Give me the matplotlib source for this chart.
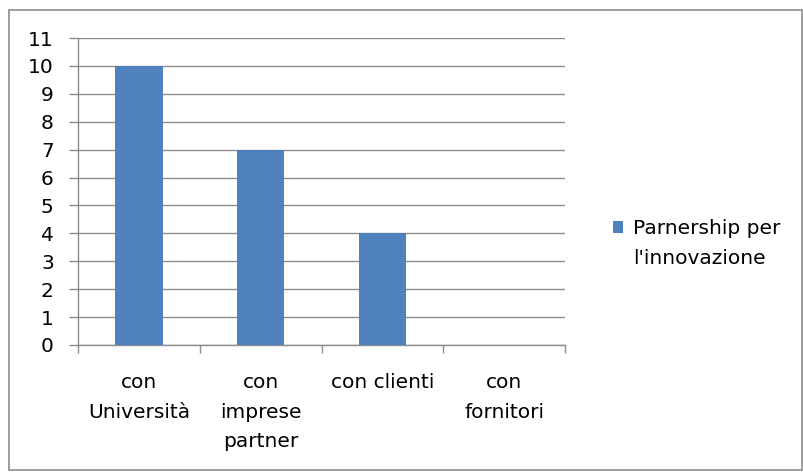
import matplotlib.pyplot as plt
from matplotlib.patches import Rectangle

# data
categories = ["con\nUniversità", "con\nimprese\npartner", "con clienti", "con\nfornitori"]
values = [10, 7, 4, 0]
series_name = "Parnership per\nl'innovazione"
bar_color = "#4F81BD"

plt.rcParams['font.family'] = ['DejaVu Sans']
fs = 14.5

fig = plt.figure(figsize=(8.04, 4.72), dpi=100)
ax = fig.add_axes([78 / 804, 1 - 345 / 472, (565 - 78) / 804, (345 - 38) / 472])

x = list(range(len(categories)))
ax.bar(x, values, width=0.39, color=bar_color, label=series_name, zorder=3)

ax.set_xlim(-0.5, len(categories) - 0.5)
ax.set_ylim(0, 11)
ax.set_yticks(range(0, 12))
ax.yaxis.grid(True, color="#8c8c8c", linewidth=1, zorder=0)

# category labels centred, ticks on category boundaries
ax.set_xticks([i - 0.5 for i in range(len(categories) + 1)])
ax.set_xticklabels([])
ax.set_xticks(x, minor=True)
ax.set_xticklabels(categories, minor=True, fontsize=fs, linespacing=1.72, va="top")
ax.tick_params(axis="x", which="minor", length=0, pad=20)
ax.tick_params(axis="x", which="major", length=6, color="#8c8c8c", width=1)
ax.tick_params(axis="y", length=6.5, color="#8c8c8c", width=1, labelsize=fs, pad=11)

for side in ["top", "right"]:
    ax.spines[side].set_visible(False)
for side in ["left", "bottom"]:
    ax.spines[side].set_color("#8c8c8c")
    ax.spines[side].set_linewidth(1)

leg = fig.legend(loc="upper left", bbox_to_anchor=(605 / 804, 1 - 211 / 472),
                 frameon=False, fontsize=fs, handlelength=0.5, handleheight=0.5,
                 handletextpad=0.5, borderaxespad=0)
for t in leg.get_texts():
    t.set_linespacing(1.72)
# put the legend square next to the first line of the label
h = leg.legend_handles[0]
h.set_y(h.get_y() + 12)

# outer frame
fig.patches.append(Rectangle((9 / 804, 2 / 472), 793 / 804, 460 / 472, transform=fig.transFigure,
                             fill=False, edgecolor="#8c8c8c", linewidth=1.2))

fig.savefig("out.png", dpi=100)
